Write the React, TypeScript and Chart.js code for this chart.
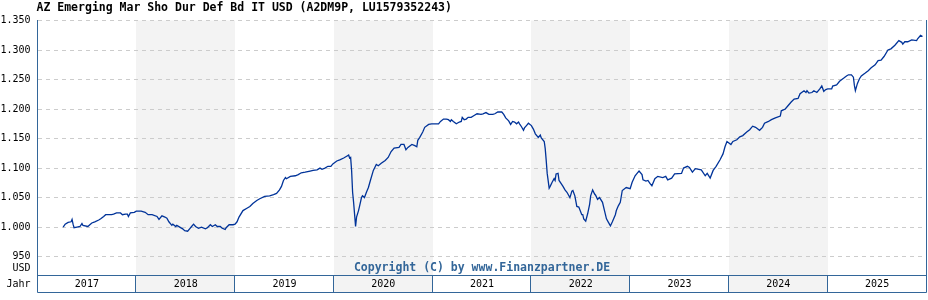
import React, { useEffect, useRef } from "react";
import { Chart, registerables } from "chart.js";

Chart.register(...registerables);

const TITLE = "AZ Emerging Mar Sho Dur Def Bd IT USD (A2DM9P, LU1579352243)";
const COPYRIGHT = "Copyright (C) by www.Finanzpartner.DE";
const UNIT_LABEL = "USD";
const X_AXIS_LABEL = "Jahr";

const YEARS = [2017, 2018, 2019, 2020, 2021, 2022, 2023, 2024, 2025];
const Y_TICKS = [950, 1000, 1050, 1100, 1150, 1200, 1250, 1300, 1350];
const Y_MIN = 918;
const Y_MAX = 1350;

const DATES = [
  2017.26, 2017.28, 2017.31, 2017.34, 2017.35, 2017.36, 2017.37, 2017.40, 2017.43, 2017.45,
  2017.46, 2017.51, 2017.53, 2017.55, 2017.58, 2017.62, 2017.64, 2017.67, 2017.69, 2017.75,
  2017.77, 2017.80, 2017.84, 2017.86, 2017.89, 2017.91, 2017.92, 2017.94, 2017.98, 2018.00,
  2018.05, 2018.09, 2018.12, 2018.16, 2018.21, 2018.23, 2018.26, 2018.29, 2018.31, 2018.33,
  2018.36, 2018.37, 2018.40, 2018.41, 2018.44, 2018.47, 2018.49, 2018.52, 2018.54, 2018.56,
  2018.58, 2018.60, 2018.63, 2018.66, 2018.70, 2018.72, 2018.75, 2018.77, 2018.80, 2018.82,
  2018.85, 2018.87, 2018.90, 2018.91, 2018.94, 2018.98, 2019.00, 2019.02, 2019.04, 2019.08,
  2019.12, 2019.15, 2019.18, 2019.22, 2019.25, 2019.30, 2019.35, 2019.39, 2019.42, 2019.45,
  2019.47, 2019.49, 2019.51, 2019.52, 2019.56, 2019.61, 2019.64, 2019.67, 2019.71, 2019.76,
  2019.79, 2019.83, 2019.86, 2019.88, 2019.91, 2019.94, 2019.97, 2019.99, 2020.03, 2020.06,
  2020.10, 2020.13, 2020.15, 2020.16, 2020.17, 2020.18, 2020.19, 2020.20, 2020.21, 2020.22,
  2020.23, 2020.25, 2020.26, 2020.28, 2020.29, 2020.31, 2020.33, 2020.35, 2020.37, 2020.40,
  2020.43, 2020.45, 2020.48, 2020.52, 2020.55, 2020.58, 2020.61, 2020.66, 2020.68, 2020.71,
  2020.73, 2020.75, 2020.79, 2020.82, 2020.84, 2020.85, 2020.87, 2020.90, 2020.92, 2020.96,
  2020.99, 2021.06, 2021.08, 2021.11, 2021.14, 2021.16, 2021.18, 2021.19, 2021.21, 2021.24,
  2021.27, 2021.29, 2021.30, 2021.32, 2021.34, 2021.36, 2021.39, 2021.42, 2021.45, 2021.49,
  2021.51, 2021.54, 2021.57, 2021.61, 2021.63, 2021.66, 2021.70, 2021.72, 2021.74, 2021.77,
  2021.79, 2021.81, 2021.83, 2021.85, 2021.87, 2021.88, 2021.90, 2021.92, 2021.93, 2021.95,
  2021.97, 2022.00, 2022.02, 2022.04, 2022.07, 2022.09, 2022.10, 2022.13, 2022.14, 2022.15,
  2022.16, 2022.18, 2022.19, 2022.21, 2022.23, 2022.24, 2022.25, 2022.27, 2022.28, 2022.30,
  2022.32, 2022.34, 2022.36, 2022.39, 2022.41, 2022.42, 2022.44, 2022.46, 2022.48, 2022.51,
  2022.52, 2022.53, 2022.55, 2022.57, 2022.59, 2022.60, 2022.62, 2022.64, 2022.65, 2022.67,
  2022.69, 2022.72, 2022.74, 2022.76, 2022.78, 2022.80, 2022.82, 2022.85, 2022.86, 2022.88,
  2022.90, 2022.92, 2022.96, 2023.00, 2023.02, 2023.05, 2023.07, 2023.09, 2023.12, 2023.13,
  2023.16, 2023.18, 2023.20, 2023.22, 2023.25, 2023.28, 2023.33, 2023.36, 2023.38, 2023.42,
  2023.45, 2023.52, 2023.54, 2023.58, 2023.60, 2023.63, 2023.66, 2023.72, 2023.76, 2023.78,
  2023.81, 2023.84, 2023.87, 2023.91, 2023.94, 2023.96, 2023.98, 2024.02, 2024.04, 2024.08,
  2024.11, 2024.14, 2024.18, 2024.21, 2024.24, 2024.27, 2024.31, 2024.34, 2024.36, 2024.40,
  2024.43, 2024.47, 2024.52, 2024.53, 2024.57, 2024.60, 2024.63, 2024.66, 2024.70, 2024.72,
  2024.76, 2024.78, 2024.79, 2024.81, 2024.84, 2024.86, 2024.89, 2024.92, 2024.94, 2024.96,
  2024.98, 2025.00, 2025.04, 2025.05, 2025.09, 2025.12, 2025.16, 2025.19, 2025.21, 2025.24,
  2025.26, 2025.27, 2025.28, 2025.30, 2025.32, 2025.34, 2025.38, 2025.41, 2025.44, 2025.48,
  2025.51, 2025.54, 2025.57, 2025.61, 2025.64, 2025.68, 2025.72, 2025.75, 2025.76, 2025.78,
  2025.81, 2025.85, 2025.90, 2025.91, 2025.94, 2025.96,
];

const VALUES = [
  1000, 1005, 1008, 1009, 1013, 1005, 999, 1000, 1001, 1006,
  1003, 1001, 1004, 1007, 1009, 1012, 1014, 1018, 1021, 1021,
  1022, 1024, 1024, 1021, 1022, 1022, 1018, 1024, 1025, 1027,
  1027, 1025, 1021, 1021, 1018, 1013, 1019, 1017, 1015, 1009,
  1003, 1005, 1001, 1003, 1000, 997, 994, 993, 997, 1001,
  1005, 1001, 998, 1000, 997, 999, 1004, 1001, 1004, 1001,
  1001, 998, 996, 999, 1004, 1004, 1005, 1009, 1017, 1028,
  1032, 1035, 1040, 1045, 1048, 1052, 1053, 1055, 1057, 1063,
  1069, 1079, 1084, 1082, 1086, 1087, 1089, 1092, 1093, 1095,
  1096, 1097, 1100, 1098, 1100, 1103, 1103, 1107, 1112, 1114,
  1117, 1120, 1122, 1117, 1118, 1096, 1059, 1042, 1022, 1001,
  1017, 1028, 1035, 1050, 1053, 1050, 1059, 1067, 1079, 1096,
  1106, 1104, 1108, 1113, 1118, 1128, 1134, 1135, 1140, 1140,
  1131, 1135, 1140, 1138, 1136, 1147, 1152, 1161, 1169, 1174,
  1175, 1175, 1179, 1183, 1183, 1182, 1179, 1182, 1179, 1175,
  1178, 1179, 1186, 1182, 1183, 1186, 1186, 1189, 1192, 1191,
  1192, 1194, 1191, 1191, 1192, 1195, 1195, 1191, 1185, 1180,
  1174, 1179, 1178, 1175, 1178, 1175, 1170, 1164, 1168, 1172,
  1176, 1172, 1166, 1158, 1152, 1156, 1151, 1145, 1133, 1113,
  1091, 1066, 1069, 1076, 1082, 1079, 1090, 1091, 1079, 1074,
  1069, 1063, 1059, 1050, 1061, 1062, 1053, 1035, 1034, 1021,
  1021, 1014, 1010, 1023, 1039, 1053, 1063, 1056, 1054, 1047,
  1050, 1042, 1028, 1014, 1008, 1002, 1009, 1021, 1028, 1036,
  1042, 1062, 1067, 1065, 1076, 1087, 1091, 1095, 1089, 1080,
  1078, 1079, 1074, 1070, 1082, 1086, 1084, 1086, 1080, 1083,
  1090, 1091, 1100, 1103, 1101, 1093, 1099, 1097, 1087, 1091,
  1083, 1096, 1103, 1114, 1124, 1136, 1145, 1140, 1145, 1148,
  1153, 1155, 1161, 1165, 1171, 1169, 1164, 1169, 1176, 1179,
  1182, 1185, 1188, 1197, 1200, 1206, 1212, 1217, 1218, 1226,
  1231, 1228, 1231, 1227, 1228, 1231, 1228, 1234, 1239, 1230,
  1233, 1234, 1234, 1239, 1241, 1247, 1252, 1256, 1258, 1258,
  1254, 1240, 1231, 1243, 1251, 1256, 1261, 1265, 1270, 1275,
  1282, 1283, 1289, 1300, 1302, 1308, 1316, 1313, 1310, 1314,
  1314, 1317, 1316, 1319, 1325, 1323,
];

const FRAME_COLOR = "#336699";
const SHADE_COLOR = "#f3f3f3";
const LINE_COLOR = "#003399";
const MONO = "'DejaVu Sans Mono', 'Liberation Mono', monospace";
const BAND_HEIGHT = 17;

function fmtTick(v: number): string {
  if (v >= 1000) {
    return Math.floor(v / 1000) + "." + String(v % 1000).padStart(3, "0");
  }
  return String(v);
}

const decorPlugin = {
  id: "decor",
  beforeDraw(chart: any) {
    const { ctx, chartArea: a, scales } = chart;
    const xs = scales.x;
    const bandBottom = a.bottom + BAND_HEIGHT;
    ctx.save();
    ctx.fillStyle = "#ffffff";
    ctx.fillRect(0, 0, chart.width, chart.height);
    ctx.fillStyle = SHADE_COLOR;
    YEARS.forEach((yr) => {
      if (yr % 2 === 0) {
        const l = Math.round(xs.getPixelForValue(yr));
        const r = Math.round(xs.getPixelForValue(yr + 1));
        ctx.fillRect(l, a.top, r - l, bandBottom - a.top);
      }
    });
    ctx.restore();
  },
  afterDraw(chart: any) {
    const { ctx, chartArea: a, scales } = chart;
    const xs = scales.x;
    const ys = scales.y;
    const bandTop = a.bottom;
    const bandBottom = a.bottom + BAND_HEIGHT;
    ctx.save();
    ctx.strokeStyle = FRAME_COLOR;
    ctx.lineWidth = 1;
    ctx.beginPath();
    ctx.moveTo(a.left, a.top - 0.5);
    ctx.lineTo(a.left, bandBottom);
    ctx.moveTo(a.right, a.top - 0.5);
    ctx.lineTo(a.right, bandBottom);
    ctx.moveTo(a.left, bandTop);
    ctx.lineTo(a.right, bandTop);
    ctx.moveTo(a.left, bandBottom);
    ctx.lineTo(a.right, bandBottom);
    YEARS.forEach((yr, i) => {
      if (i === 0) return;
      const px = Math.round(xs.getPixelForValue(yr)) - 0.5;
      ctx.moveTo(px, bandTop);
      ctx.lineTo(px, bandBottom);
    });
    ctx.stroke();

    // title
    ctx.fillStyle = "#000000";
    ctx.font = "bold 11.5px " + MONO;
    ctx.textAlign = "left";
    ctx.textBaseline = "middle";
    ctx.fillText(TITLE, a.left - 1, 8.5);

    // unit label and axis label
    ctx.font = "10px " + MONO;
    ctx.textAlign = "right";
    const labelX = a.left - 7;
    ctx.fillText(UNIT_LABEL, labelX, ys.getPixelForValue(Y_TICKS[0]) + 12);
    ctx.fillText(X_AXIS_LABEL, labelX, (bandTop + bandBottom) / 2);

    // copyright
    ctx.fillStyle = FRAME_COLOR;
    ctx.font = "bold 11.5px " + MONO;
    ctx.textAlign = "center";
    ctx.fillText(COPYRIGHT, (a.left + a.right) / 2, 268);
    ctx.restore();
  },
};

export default function App() {
  const canvasRef = useRef<HTMLCanvasElement | null>(null);

  useEffect(() => {
    const canvas = canvasRef.current;
    if (!canvas) return;
    const points = DATES.map((d, i) => ({ x: d, y: VALUES[i] }));
    const chart = new Chart(canvas, {
      type: "line",
      data: {
        datasets: [
          {
            data: points,
            borderColor: LINE_COLOR,
            borderWidth: 1.3,
            pointRadius: 0,
            fill: false,
            tension: 0,
          },
        ],
      },
      options: {
        animation: false,
        responsive: false,
        devicePixelRatio: 1,
        events: [],
        layout: { padding: { top: 20.5, right: 1.5, left: 0, bottom: 0 } },
        plugins: {
          legend: { display: false },
          tooltip: { enabled: false },
          title: { display: false },
        },
        scales: {
          x: {
            type: "linear",
            position: "bottom",
            min: YEARS[0],
            max: YEARS[YEARS.length - 1] + 1,
            grid: { display: false, drawTicks: false },
            border: { display: false },
            afterBuildTicks: (s: any) => {
              s.ticks = YEARS.map((y) => ({ value: y + 0.5 }));
            },
            afterFit: (s: any) => {
              s.height = 24.5;
            },
            ticks: {
              autoSkip: false,
              maxRotation: 0,
              minRotation: 0,
              padding: 3,
              color: "#000000",
              font: { family: MONO, size: 10 },
              callback: (v: any) => String(Math.floor(Number(v))),
            },
          },
          y: {
            type: "linear",
            position: "left",
            min: Y_MIN,
            max: Y_MAX,
            grid: { color: "#cccccc", lineWidth: 1, drawTicks: false },
            border: { display: false, dash: [4, 4] },
            afterBuildTicks: (s: any) => {
              s.ticks = Y_TICKS.map((v) => ({ value: v }));
            },
            afterFit: (s: any) => {
              s.width = 37.5;
            },
            ticks: {
              padding: 7,
              color: "#000000",
              font: { family: MONO, size: 10 },
              callback: (v: any) => fmtTick(Number(v)),
            },
          },
        },
      },
      plugins: [decorPlugin],
    });
    return () => chart.destroy();
  }, []);

  return (
    <div style={{ position: "absolute", left: 0, top: 0, width: 928, height: 300 }}>
      <canvas ref={canvasRef} width={928} height={300} style={{ display: "block" }} />
    </div>
  );
}
